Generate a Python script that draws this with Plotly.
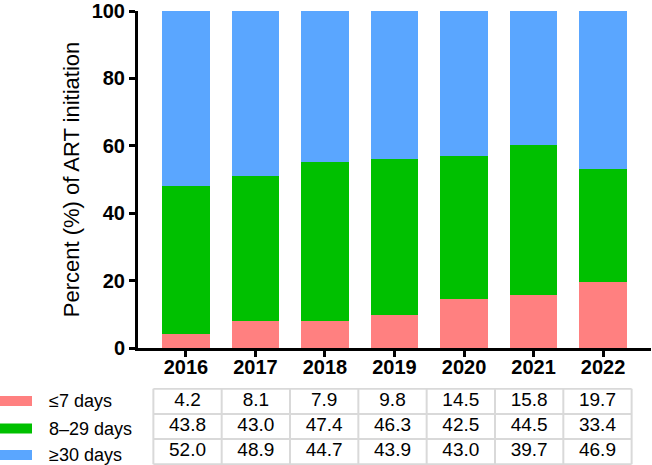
import plotly.graph_objects as go

years = ["2016", "2017", "2018", "2019", "2020", "2021", "2022"]
series_names = ["≤7 days", "8–29 days", "≥30 days"]
le7 = [4.2, 8.1, 7.9, 9.8, 14.5, 15.8, 19.7]
d8_29 = [43.8, 43.0, 47.4, 46.3, 42.5, 44.5, 33.4]
ge30 = [52.0, 48.9, 44.7, 43.9, 43.0, 39.7, 46.9]
colors = ["#FF8080", "#00C000", "#5AA6FF"]
y_ticks = [0, 20, 40, 60, 80, 100]

W, H = 652, 465
ml, mr, mt, mb = 138, 1, 0, 0
pw, ph = W - ml - mr, H - mt - mb
FONT = "Liberation Sans, Arial"

def py(pix):  # pixel y from top -> paper y
    return (H - mb - pix) / ph

def px(pix):
    return (pix - ml) / pw

fig = go.Figure()
all_series = [le7, d8_29, ge30]
for name, vals, col in zip(series_names, all_series, colors):
    fig.add_trace(go.Bar(x=years, y=vals, name=name, marker=dict(color=col, line=dict(width=0)),
                         width=0.68, showlegend=False, xaxis="x", yaxis="y"))

# data table below the chart, drawn on its own axes (columns = years, rows = series)
fmt = lambda v: f"{v:.1f}"
for r, vals in enumerate(all_series):
    fig.add_trace(go.Scatter(
        x=list(range(len(years))), y=[r + 0.5] * len(years), mode="text",
        text=[fmt(v) for v in vals], textposition="middle center",
        textfont=dict(family=FONT, size=19, color="black"),
        showlegend=False, hoverinfo="skip", xaxis="x2", yaxis="y2"))

n_cols, n_rows = len(years), len(all_series)
line_style = dict(color="#D9D9D9", width=2)
for i in range(n_cols + 1):
    fig.add_shape(type="line", xref="x2", yref="y2", x0=i - 0.5, x1=i - 0.5, y0=0, y1=n_rows,
                  line=line_style)
for j in range(n_rows + 1):
    fig.add_shape(type="line", xref="x2", yref="y2", x0=-0.5, x1=n_cols - 0.5, y0=j, y1=j,
                  line=line_style)

# legend swatches and labels
sw_y = [401, 428.5, 455]
for name, col, yc in zip(series_names, colors, sw_y):
    fig.add_shape(type="rect", xref="paper", yref="paper",
                  x0=px(0), x1=px(32), y0=py(yc - 5), y1=py(yc + 5),
                  fillcolor=col, line=dict(width=0))
    fig.add_annotation(xref="paper", yref="paper", x=px(47), y=py(yc), text=name,
                       showarrow=False, xanchor="left", yanchor="middle",
                       font=dict(family=FONT, size=18, color="black"))

hidden = dict(showgrid=False, showline=False, zeroline=False, ticks="", showticklabels=False,
              fixedrange=True, automargin=False)
fig.update_layout(
    template="none",
    width=W, height=H, barmode="stack",
    margin=dict(l=ml, r=mr, t=mt, b=mb, pad=0),
    plot_bgcolor="white", paper_bgcolor="white",
    font=dict(family=FONT, color="black"),
    xaxis=dict(type="category", domain=[0, 1], range=[-0.69, 6.69], showline=True, linewidth=3,
               linecolor="black", ticks="outside", ticklen=6, tickwidth=2.5, tickcolor="black",
               tickvals=years, ticktext=[f"<b>{y}</b>" for y in years], showgrid=False,
               ticklabelstandoff=-7,
               tickfont=dict(size=20, family=FONT), anchor="y", automargin=False),
    yaxis=dict(domain=[py(348), py(11)], range=[0, 100], showline=True, linewidth=3, linecolor="black",
               ticks="outside", ticklen=6, tickwidth=2.5, tickcolor="black",
               tickvals=y_ticks, ticktext=[f"<b>{t}</b>" for t in y_ticks],
               tickfont=dict(size=20, family=FONT), showgrid=False, zeroline=False,
               ticklabeloverflow="allow", automargin=False,
               title=dict(text="Percent (%) of ART initiation", standoff=6,
                          font=dict(size=22, family=FONT)), anchor="x"),
    xaxis2=dict(domain=[px(152), px(633)], range=[-0.52, 6.52], anchor="y2", **hidden),
    yaxis2=dict(domain=[py(465), py(388)], range=[3.03, -0.03], anchor="x2", **hidden),
)

fig.write_html("out.html")
